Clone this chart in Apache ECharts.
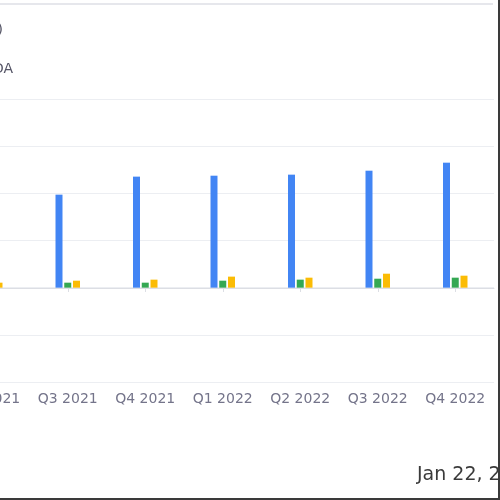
<!DOCTYPE html>
<html>
<head>
<meta charset="utf-8">
<script src="https://cdn.jsdelivr.net/npm/echarts@6/dist/echarts.min.js"></script>
<style>
  html, body { margin: 0; padding: 0; background: #fff; }
  #frame { position: relative; width: 500px; height: 500px; overflow: hidden; background: #fff; }
  #chart { position: absolute; left: -200px; top: 0; width: 700px; height: 500px; }
  #edgeR { position: absolute; right: 0; top: 0; width: 2px; height: 500px; background: #3a3a3a; }
  #edgeB { position: absolute; left: 0; bottom: 0; width: 500px; height: 2px; background: #3a3a3a; }
</style>
</head>
<body>
<div id="frame">
  <div id="chart"></div>
  <div id="edgeR"></div>
  <div id="edgeB"></div>
</div>
<script>
const categories = ['Q1 2021', 'Q2 2021', 'Q3 2021', 'Q4 2021', 'Q1 2022', 'Q2 2022', 'Q3 2022', 'Q4 2022'];
const revenue   = [80, 88, 98.6, 117.7, 118.7, 119.8, 124, 132.5];
const netIncome = [4, 4.5, 5.3, 5.3, 7.4, 8.5, 9.5, 10.6];
const ebitda    = [5, 5.3, 7.4, 8.5, 11.7, 10.6, 14.8, 12.7];
const seriesNames = ['Revenue', 'Net Income', 'EBITDA'];
const dateText = 'Jan 22, 2023';

const OFF = 200;
const chart = echarts.init(document.getElementById('chart'), null, { renderer: 'canvas' });
chart.setOption({
  animation: false,
  grid: { left: OFF - 126, right: 6, top: 99, bottom: 118, containLabel: false },
  xAxis: [
    {
      type: 'category',
      data: categories,
      position: 'bottom',
      axisLine: { show: false, onZero: false },
      axisTick: { show: false },
      axisLabel: { interval: 0, margin: 10, color: '#74748a', fontSize: 14, fontFamily: 'DejaVu Sans' }
    },
    {
      type: 'category',
      data: categories,
      position: 'bottom',
      offset: -94,
      axisLine: { show: true, onZero: false, lineStyle: { color: '#dcdee4', width: 1 } },
      axisTick: { show: true, alignWithLabel: true, length: 4, lineStyle: { color: '#dcdee4' } },
      axisLabel: { show: false }
    }
  ],
  yAxis: {
    type: 'value',
    min: -100, max: 200, interval: 50,
    axisLabel: { show: false },
    axisLine: { show: false },
    axisTick: { show: false },
    splitLine: { lineStyle: { color: '#eceef2', width: 1 } }
  },
  series: [
    { name: seriesNames[0], type: 'bar', data: revenue, barWidth: 7, barGap: '25%', itemStyle: { color: '#4285F4' } },
    { name: seriesNames[1], type: 'bar', data: netIncome, barWidth: 7, barGap: '25%', itemStyle: { color: '#34A853' } },
    { name: seriesNames[2], type: 'bar', data: ebitda, barWidth: 7, barGap: '25%', itemStyle: { color: '#FBBC05' } }
  ],
  graphic: [
    { type: 'rect', shape: { x: OFF, y: 3, width: 493, height: 2 }, style: { fill: '#e6e7ec' } },
    { type: 'text', x: OFF + 3, y: 30, style: { text: '(USD)', textAlign: 'right', textVerticalAlign: 'middle', fill: '#555566', font: '14px DejaVu Sans' } },
    { type: 'text', x: OFF + 13, y: 69, style: { text: 'EBITDA', textAlign: 'right', textVerticalAlign: 'middle', fill: '#555566', font: '14px DejaVu Sans' } },
    { type: 'text', x: OFF + 417, y: 475, style: { text: dateText, textAlign: 'left', textVerticalAlign: 'middle', fill: '#3a3a3a', font: '19px DejaVu Sans' } }
  ]
});
</script>
</body>
</html>
